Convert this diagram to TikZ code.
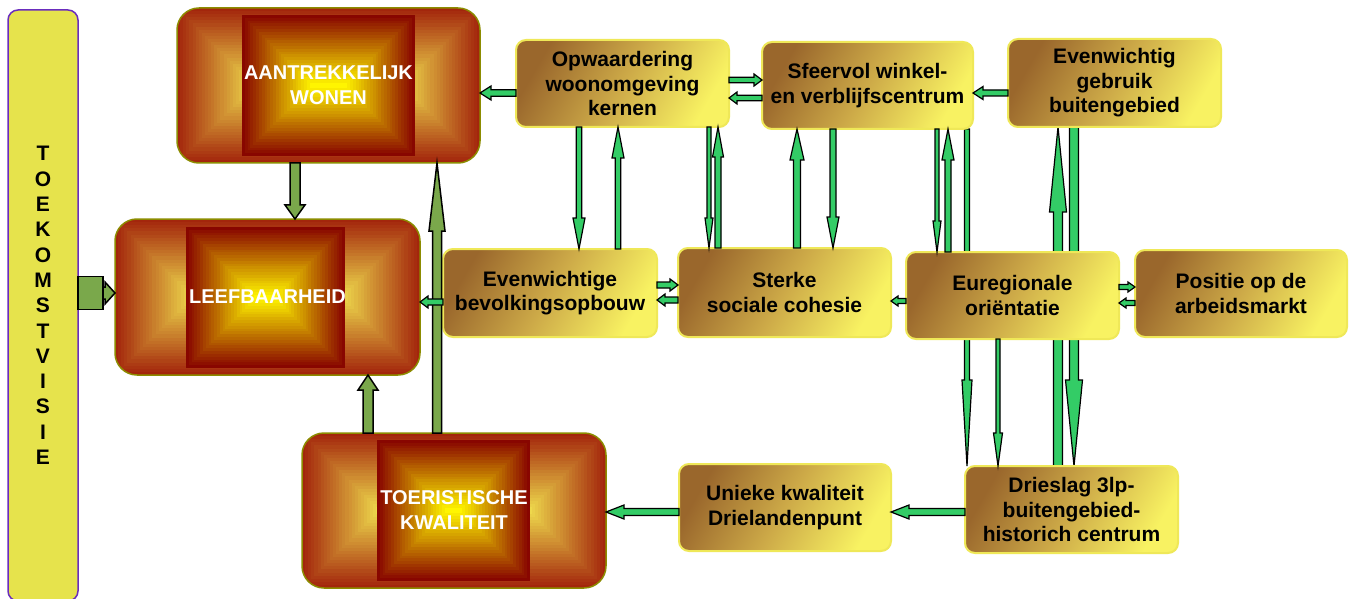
\documentclass[tikz,border=0pt]{standalone}
\usepackage{fontspec}
\setmainfont{Liberation Sans}
\usetikzlibrary{calc}
\pgfdeclarelayer{back}
\pgfdeclarelayer{bg}
\pgfsetlayers{back,bg,main}
\definecolor{agreen}{HTML}{33CC66}
\definecolor{olivegreen}{HTML}{7AA84B}
\definecolor{oliveborder}{HTML}{8C8C00}
\definecolor{sbrown}{HTML}{9A672C}
\definecolor{smid}{HTML}{CDAA48}
\definecolor{syellow}{HTML}{F8F262}
\definecolor{sborder}{HTML}{EFE858}
\definecolor{bred}{HTML}{A3260C}
\definecolor{byel}{HTML}{EED84C}
\definecolor{ired}{HTML}{880600}
\definecolor{iyel}{HTML}{FFF500}
\definecolor{tvfill}{HTML}{E6E34C}
\definecolor{tvborder}{HTML}{6A2DBE}

\newcommand{\boxgrad}[6]{%
  \pgfmathsetmacro{\bgH}{min(#3-#1,#4-#2)/2}%
  \foreach \i in {0,...,24}{%
    \pgfmathsetmacro{\bgD}{\bgH*\i/25}%
    \pgfmathtruncatemacro{\bgP}{100*\i/24}%
    \fill[#6!\bgP!#5] ({#1+\bgD},{#2+\bgD}) rectangle ({#3-\bgD},{#4-\bgD});
  }%
}

\tikzset{
  blkdown/.style n args={3}{to path={([xshift=-#1]\tikztostart) -- ([xshift=-#1,yshift=#3]\tikztotarget) -- ([xshift=-#2,yshift=#3]\tikztotarget) -- (\tikztotarget) -- ([xshift=#2,yshift=#3]\tikztotarget) -- ([xshift=#1,yshift=#3]\tikztotarget) -- ([xshift=#1]\tikztostart) -- cycle}},
  blkup/.style n args={3}{to path={([xshift=-#1]\tikztostart) -- ([xshift=-#1,yshift=-#3]\tikztotarget) -- ([xshift=-#2,yshift=-#3]\tikztotarget) -- (\tikztotarget) -- ([xshift=#2,yshift=-#3]\tikztotarget) -- ([xshift=#1,yshift=-#3]\tikztotarget) -- ([xshift=#1]\tikztostart) -- cycle}},
  blkleft/.style n args={3}{to path={([yshift=-#1]\tikztostart) -- ([yshift=-#1,xshift=#3]\tikztotarget) -- ([yshift=-#2,xshift=#3]\tikztotarget) -- (\tikztotarget) -- ([yshift=#2,xshift=#3]\tikztotarget) -- ([yshift=#1,xshift=#3]\tikztotarget) -- ([yshift=#1]\tikztostart) -- cycle}},
  blkright/.style n args={3}{to path={([yshift=-#1]\tikztostart) -- ([yshift=-#1,xshift=-#3]\tikztotarget) -- ([yshift=-#2,xshift=-#3]\tikztotarget) -- (\tikztotarget) -- ([yshift=#2,xshift=-#3]\tikztotarget) -- ([yshift=#1,xshift=-#3]\tikztotarget) -- ([yshift=#1]\tikztostart) -- cycle}},
  garrow/.style={fill=agreen, draw=black, line width=1.2pt, line join=miter},
  oarrow/.style={fill=olivegreen, draw=black, line width=1.5pt, line join=miter},
  bigbox/.style={draw=oliveborder, line width=1.5pt, rounded corners=22pt, inner sep=0pt, outer sep=0pt,
    align=center, text=white, font=\fontsize{20}{25}\selectfont\bfseries, anchor=north west},
  sbox/.style={draw=sborder, line width=2pt, rounded corners=10pt,
    top color=sbrown, bottom color=syellow, middle color=smid, shading angle=60,
    minimum width=213pt, minimum height=87pt, inner sep=0pt, outer sep=0pt,
    align=center, font=\fontsize{21}{24.5}\selectfont\bfseries, anchor=north west},
  tvbar/.style={draw=tvborder, fill=tvfill, line width=1.5pt, rounded corners=10pt,
    inner sep=0pt, outer sep=0pt, align=center, anchor=north west,
    font=\fontsize{21}{25.3}\selectfont\bfseries}
}

\begin{document}
\begin{tikzpicture}[x=1pt,y=-1pt]
\begin{pgfonlayer}{back}
\fill[white] (0,0) rectangle (1353,599);
\end{pgfonlayer}
\useasboundingbox (0,0) rectangle (1353,599);

% helper coordinates
\foreach \v in {295,368,437,579,618,709,718,797,833,937,948,967,998,1058,1074}{\coordinate (v\v) at (\v,0);}
\foreach \v in {80,93,98,285,287,293,300,301,302,303,512}{\coordinate (h\v) at (0,\v);}

% TOEKOMSTVISIE bar
\node[tvbar, minimum width=70pt, minimum height=591pt] (tv) at (8,10)
  {T\\O\\E\\K\\O\\M\\S\\T\\V\\I\\S\\I\\E};

% big boxes
\begin{scope}
\clip[rounded corners=22pt] (177,8) rectangle (480,163);
\boxgrad{177}{8}{480}{163}{bred}{byel}
\boxgrad{242}{15}{415}{156}{ired}{iyel}
\end{scope}
\node[bigbox, minimum width=303pt, minimum height=155pt] (aan) at (177,8) {AANTREKKELIJK\\WONEN};

\begin{scope}
\clip[rounded corners=22pt] (115,219) rectangle (420,375);
\boxgrad{115}{219}{420}{375}{bred}{byel}
\boxgrad{186}{227}{345}{368}{ired}{iyel}
\end{scope}
\node[bigbox, minimum width=305pt, minimum height=156pt] (leef) at (115,219) {LEEFBAARHEID};

\begin{scope}
\clip[rounded corners=22pt] (302,433) rectangle (606,588);
\boxgrad{302}{433}{606}{588}{bred}{byel}
\boxgrad{377}{440}{530}{581}{ired}{iyel}
\end{scope}
\node[bigbox, minimum width=304pt, minimum height=155pt] (toer) at (302,433) {TOERISTISCHE\\KWALITEIT};

% small boxes
\node[sbox] (opw) at (516,40) {Opwaardering\\woonomgeving\\kernen};
\node[sbox, minimum width=211pt] (sfe) at (762,42) {Sfeervol winkel-\\en verblijfscentrum};
\node[sbox, minimum height=88pt] (evg) at (1008,39) {Evenwichtig\\gebruik\\buitengebied};
\node[sbox, minimum width=214pt, minimum height=88pt] (bev) at (443,249) {Evenwichtige\\bevolkingsopbouw};
\node[sbox, minimum height=89pt] (ste) at (678,248) {Sterke\\sociale cohesie};
\node[sbox] (eur) at (906,252) {Euregionale\\oriëntatie};
\node[sbox, minimum width=212pt] (pos) at (1135,250) {Positie op de\\arbeidsmarkt};
\node[sbox, minimum width=212pt] (uni) at (679,464) {Unieke kwaliteit\\Drielandenpunt};
\node[sbox] (dri) at (965,466) {Drieslag 3lp-\\buitengebied-\\historich centrum};

% arrows passing behind Euregionale
\begin{pgfonlayer}{bg}
\draw[garrow, blkdown={2.5pt}{5pt}{86pt}] (sfe.south -| v967) to (dri.north -| v967);
\draw[garrow, blkup={4.5pt}{8.5pt}{85pt}] (dri.north -| v1058) to (evg.south -| v1058);
\draw[garrow, blkdown={4.5pt}{8.5pt}{86pt}] (evg.south -| v1074) to (dri.north -| v1074);
\end{pgfonlayer}

% olive arrows
\draw[oarrow, blkdown={5pt}{10pt}{14pt}] (aan.south -| v295) to (leef.north -| v295);
\draw[oarrow, blkup={4.5pt}{8pt}{68pt}] (toer.north -| v437) to (aan.south -| v437);
\draw[oarrow, blkup={5pt}{10pt}{15pt}] (toer.north -| v368) to (leef.south -| v368);
\coordinate (tvj) at (103,293);
\draw[oarrow] ($(tv.east |- tvj)+(0,-16.5)$) rectangle ($(tvj)+(0,16.5)$);
\draw[oarrow, blkright={6pt}{11pt}{10pt}] (tvj) to (leef.west |- tvj);

% green horizontal arrows
\draw[garrow, blkleft={3.3pt}{7pt}{11pt}] (opw.west |- h93) to (aan.east |- h93);
\draw[garrow, blkright={2.7pt}{6pt}{8pt}] (opw.east |- h80) to (sfe.west |- h80);
\draw[garrow, blkleft={2.7pt}{6pt}{8pt}] (sfe.west |- h98) to (opw.east |- h98);
\draw[garrow, blkleft={3pt}{6.5pt}{10pt}] (evg.west |- h93) to (sfe.east |- h93);
\draw[garrow, blkleft={3pt}{6pt}{8pt}] (bev.west |- h302) to (leef.east |- h302);
\draw[garrow, blkright={3pt}{6pt}{8pt}] (bev.east |- h285) to (ste.west |- h285);
\draw[garrow, blkleft={3pt}{6pt}{8pt}] (ste.west |- h300) to (bev.east |- h300);
\draw[garrow, blkleft={2.5pt}{5pt}{7pt}] (eur.west |- h301) to (ste.east |- h301);
\draw[garrow, blkright={2.5pt}{5pt}{7pt}] (eur.east |- h287) to (pos.west |- h287);
\draw[garrow, blkleft={2.5pt}{5pt}{7pt}] (pos.west |- h303) to (eur.east |- h303);
\draw[garrow, blkleft={3.5pt}{7pt}{18pt}] (dri.west |- h512) to (uni.east |- h512);
\draw[garrow, blkleft={3.5pt}{7pt}{18pt}] (uni.west |- h512) to (toer.east |- h512);

% green vertical arrows
\draw[garrow, blkdown={2.7pt}{6pt}{31pt}] (opw.south -| v579) to (bev.north -| v579);
\draw[garrow, blkup={2.7pt}{6pt}{31pt}] (bev.north -| v618) to (opw.south -| v618);
\draw[garrow, blkdown={2pt}{4pt}{30pt}] (opw.south -| v709) to (ste.north -| v709);
\draw[garrow, blkup={3pt}{5.5pt}{30pt}] (ste.north -| v718) to (opw.south -| v718);
\draw[garrow, blkup={3.5pt}{7pt}{31pt}] (ste.north -| v797) to (sfe.south -| v797);
\draw[garrow, blkdown={3pt}{6pt}{31pt}] (sfe.south -| v833) to (ste.north -| v833);
\draw[garrow, blkdown={2pt}{4pt}{31pt}] (sfe.south -| v937) to (eur.north -| v937);
\draw[garrow, blkup={3pt}{6pt}{31pt}] (eur.north -| v948) to (sfe.south -| v948);
\draw[garrow, blkdown={2pt}{4.5pt}{33pt}] (eur.south -| v998) to (dri.north -| v998);
\end{tikzpicture}
\end{document}
